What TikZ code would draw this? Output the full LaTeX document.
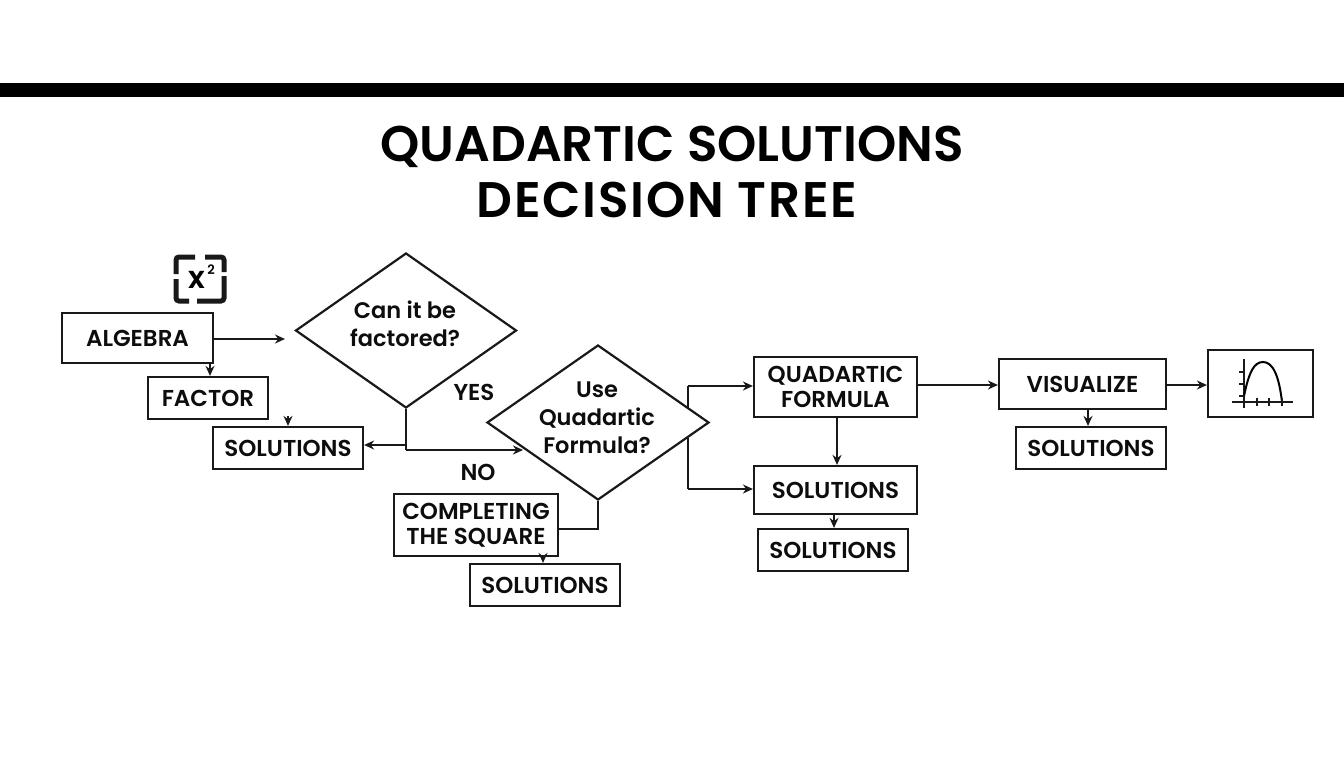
\documentclass[tikz,border=0pt]{standalone}
\usepackage{fontspec}
\setmainfont{Poppins}[BoldFont={Poppins SemiBold}]
\usetikzlibrary{shapes.geometric,arrows.meta}
\tikzset{
  line/.style={line width=2pt,draw=black!90},
  arr/.style={line,-{Stealth[length=10pt,width=9pt]}},
  box/.style={draw=black!90,line width=2.2pt,inner sep=0pt,align=center,font=\fontsize{23}{25}\selectfont\bfseries,text=black!95},
  dia/.style={draw=black!90,line width=2.2pt,shape=diamond,inner sep=0pt},
  qtext/.style={align=center,inner sep=0pt,font=\fontsize{22.5}{28}\selectfont\bfseries,text=black!95},
  lab/.style={inner sep=0pt,font=\fontsize{23}{25}\selectfont\bfseries,text=black!95},
  ttl/.style={inner sep=0pt,font=\fontsize{50}{54}\selectfont\bfseries,text=black},
  thin/.style={line width=1.8pt,draw=black!90},
  brk/.style={line width=5pt,draw=black!90,line cap=butt,rounded corners=3pt}
}
\begin{document}
\begin{tikzpicture}[x=1pt,y=-1pt]
\useasboundingbox (0,0) rectangle (1344,768);
\fill[white] (0,0) rectangle (1344,768);
\fill[black] (0,83) rectangle (1344,97);
\node[ttl] (t1) at (672,147) {QUADARTIC SOLUTIONS};
\node[ttl] (t2) at (667,199.5) {\addfontfeature{LetterSpace=3.5}DECISION TREE};
% icon
\draw[brk] (176,274) -- (176,257) -- (195,257);
\draw[brk] (205,257) -- (224,257) -- (224,272);
\draw[brk] (176,279) -- (176,301) -- (189,301);
\draw[brk] (197,301) -- (224,301) -- (224,276);
\node[inner sep=0pt,font=\fontsize{31}{31}\selectfont\bfseries] (xx) at (197,280) {x};
\node[inner sep=0pt,font=\fontsize{13}{13}\selectfont\bfseries] (sq) at (211,270) {2};
% boxes
\node[box,minimum width=151pt,minimum height=50pt] (alg) at (137.5,338) {ALGEBRA};
\node[box,minimum width=120pt,minimum height=42pt] (fac) at (208,398) {FACTOR};
\node[box,minimum width=150pt,minimum height=42pt] (s1) at (288,448) {SOLUTIONS};
\node[dia,minimum width=221pt,minimum height=155pt,aspect=1.426] (d1) at (406,330.5) {};
\node[qtext] (d1t) at (405,324) {Can it be\\factored?};
\node[lab] (yes) at (474,392) {YES};
\node[lab] (no) at (478,472) {NO};
\node[dia,minimum width=222pt,minimum height=155pt,aspect=1.432] (d2) at (598,422.5) {};
\node[qtext] (d2t) at (597,418) {Use\\Quadartic\\Formula?};
\node[box,minimum width=164pt,minimum height=62pt] (cs) at (476,525) {COMPLETING\\THE SQUARE};
\node[box,minimum width=150pt,minimum height=42pt] (s2) at (545,585) {SOLUTIONS};
\node[box,minimum width=163pt,minimum height=60pt] (qf) at (835.5,387) {QUADARTIC\\FORMULA};
\node[box,minimum width=163pt,minimum height=48pt] (s3) at (835.5,490) {SOLUTIONS};
\node[box,minimum width=150pt,minimum height=42pt] (s4) at (833,550) {SOLUTIONS};
\node[box,minimum width=167pt,minimum height=50pt] (vis) at (1082.5,384) {VISUALIZE};
\node[box,minimum width=150pt,minimum height=42pt] (s5) at (1091,448) {SOLUTIONS};
\node[box,minimum width=105pt,minimum height=67pt] (g) at (1260.5,383.5) {};
% graph
\draw[thin] (1244,359) -- (1244,408);
\draw[thin] (1232,402) -- (1293,402);
\draw[line width=2pt] (1244,396) .. controls (1249,372) and (1254,362) .. (1263,362) .. controls (1273,362) and (1279,376) .. (1282,402);
\foreach \x in {1257,1269,1282} \draw[thin] (\x,398) -- (\x,406);
\foreach \y in {372,384,396} \draw[thin] (1239,\y) -- (1244,\y);
% connectors
\coordinate (algend) at (285,339);
\coordinate (s1in) at (288,416);
\coordinate (d1s) at (406,450);
\coordinate (d2in) at (523,450);
\coordinate (s1r) at (406,445);
\coordinate (u1) at (688,408);
\coordinate (u2) at (688,386);
\coordinate (l1) at (688,438);
\coordinate (l2) at (688,489);
\draw[arr] (alg.east |- algend) -- (algend);
\draw[arr] (alg.south -| 210,0) -- (fac.north -| 210,0);
\draw[arr] (s1in) -- (s1.north);
\draw[line] (d1.south) -- (d1s);
\draw[arr] (s1r) -- (s1.east |- s1r);
\draw[arr] (d1s) -- (d2in);
\draw[line] (u1) -- (u2);
\draw[arr] (u2) -- (qf.west |- u2);
\draw[line] (l1) -- (l2);
\draw[arr] (l2) -- (s3.west |- l2);
\draw[line] (d2.south) |- (cs.east |- 0,529);
\draw[arr] (cs.south -| 543,0) -- (s2.north -| 543,0);
\draw[arr] (qf.south -| 837,0) -- (s3.north -| 837,0);
\draw[arr] (s3.south -| 834,0) -- (s4.north -| 834,0);
\draw[arr] (qf.east |- 0,385) -- (vis.west |- 0,385);
\draw[arr] (vis.east |- 0,385) -- (g.west |- 0,385);
\draw[arr] (vis.south -| 1088,0) -- (s5.north -| 1088,0);
\end{tikzpicture}
\end{document}
